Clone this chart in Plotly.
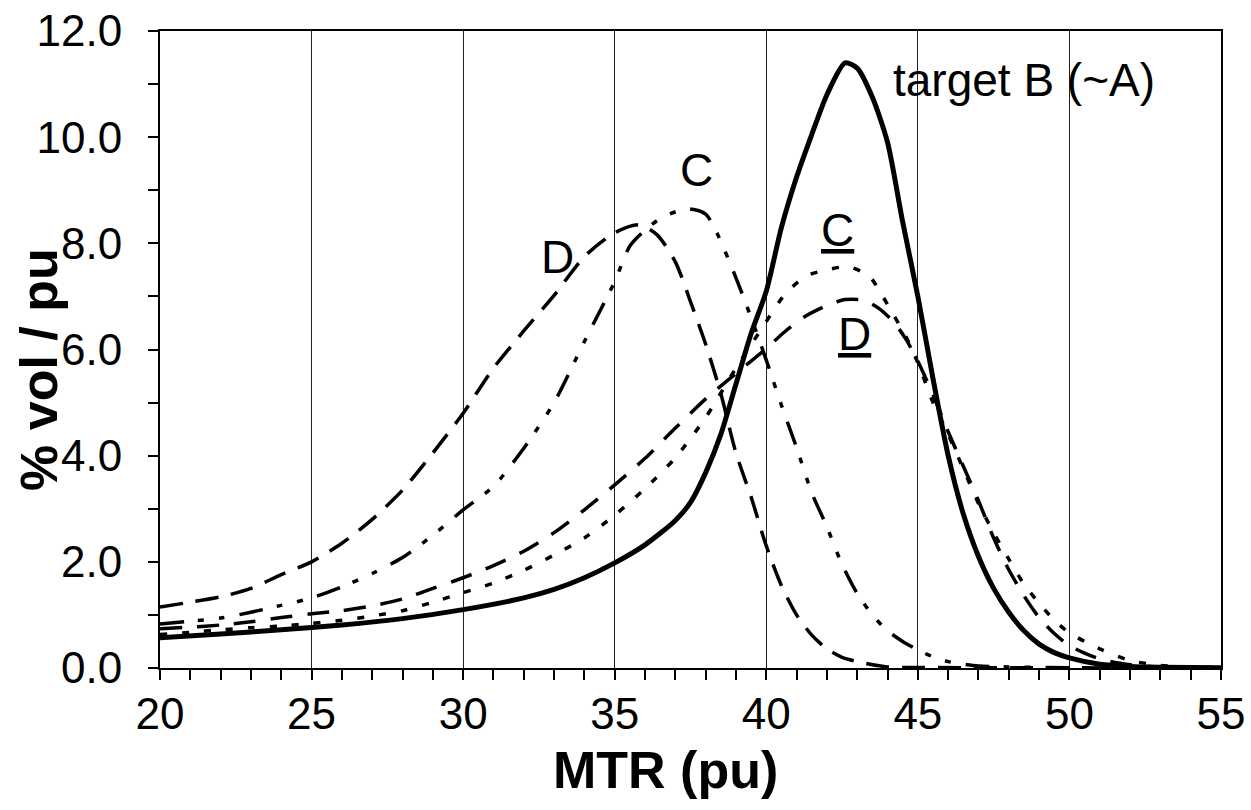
import plotly.graph_objects as go

# target B (~A) - solid
x_b = [20, 22, 24, 26, 28, 30, 32, 33, 34, 35, 36, 37, 37.5, 38, 38.5, 39, 39.5, 40, 40.5, 41, 41.5, 42, 42.6, 43, 43.5, 44, 44.5, 45, 45.5, 46, 46.5, 47, 47.5, 48, 48.5, 49, 49.5, 50, 51, 52, 53, 55]
y_b = [0.57, 0.64, 0.72, 0.81, 0.93, 1.1, 1.32, 1.48, 1.7, 1.98, 2.32, 2.78, 3.12, 3.68, 4.4, 5.35, 6.3, 7.1, 8.3, 9.25, 10.05, 10.8, 11.4, 11.3, 10.75, 9.9, 8.4, 7.0, 5.45, 4.0, 2.9, 2.1, 1.5, 1.05, 0.7, 0.45, 0.29, 0.19, 0.07, 0.03, 0.015, 0.005]

# C - dash-dot-dot
x_c = [20, 21, 22, 23, 24, 25, 26, 27, 28, 29, 30, 31, 32, 33, 34, 35, 35.5, 36, 36.6, 37.4, 38, 38.4, 39, 39.5, 40, 40.5, 41, 41.5, 42, 42.5, 43, 43.5, 44, 44.5, 45, 45.5, 46, 47, 48, 50, 55]
y_c = [0.83, 0.88, 0.94, 1.05, 1.18, 1.32, 1.53, 1.78, 2.08, 2.5, 2.98, 3.42, 4.14, 5.0, 6.15, 7.28, 7.95, 8.25, 8.5, 8.65, 8.55, 8.16, 7.35, 6.6, 5.8, 4.95, 4.15, 3.3, 2.66, 1.95, 1.4, 1.0, 0.7, 0.5, 0.34, 0.21, 0.12, 0.04, 0.02, 0.005, 0]

# D - long dash
x_d = [20, 21, 22, 23, 24, 25, 26, 27, 28, 29, 30, 31, 32, 33, 34, 35, 35.8, 36.4, 37, 37.5, 38, 38.5, 39, 39.5, 40, 40.5, 41, 41.5, 42, 42.5, 43, 44, 45, 55]
y_d = [1.15, 1.24, 1.34, 1.5, 1.76, 2.0, 2.35, 2.8, 3.35, 4.05, 4.8, 5.65, 6.35, 7.02, 7.75, 8.2, 8.35, 8.16, 7.65, 6.9, 6.1, 5.17, 4.05, 3.22, 2.3, 1.55, 1.0, 0.62, 0.36, 0.2, 0.12, 0.02, 0.01, 0]

# C underlined - dotted
x_cu = [20, 21, 22, 23, 24, 25, 26, 27, 28, 29, 30, 31, 32, 33, 34, 35, 36, 37, 38, 39, 39.8, 40.6, 41.3, 42, 42.7, 43.4, 43.8, 44.2, 44.6, 45, 45.5, 46, 46.5, 47, 47.5, 48, 48.5, 49, 49.5, 50, 51, 52, 53, 54, 55]
y_cu = [0.63, 0.67, 0.72, 0.76, 0.79, 0.84, 0.9, 0.98, 1.08, 1.24, 1.42, 1.6, 1.84, 2.13, 2.45, 2.88, 3.38, 3.96, 4.72, 5.65, 6.35, 7.03, 7.38, 7.5, 7.56, 7.38, 7.04, 6.65, 6.25, 5.75, 5.0, 4.4, 3.75, 3.1, 2.55, 2.05, 1.58, 1.22, 0.9, 0.66, 0.36, 0.14, 0.05, 0.02, 0.01]

# D underlined - dashed
x_du = [20, 21, 22, 23, 24, 25, 26, 27, 28, 29, 30, 31, 32, 33, 34, 35, 36, 37, 38, 39, 40, 40.6, 41.3, 42, 42.6, 43.2, 43.7, 44.2, 44.6, 45, 45.5, 46, 46.5, 47, 47.5, 48, 48.5, 49, 49.5, 50, 50.5, 51, 52, 53, 55]
y_du = [0.74, 0.77, 0.81, 0.87, 0.95, 1.02, 1.08, 1.17, 1.3, 1.5, 1.7, 1.93, 2.2, 2.55, 2.98, 3.45, 3.95, 4.52, 5.07, 5.55, 6.02, 6.33, 6.63, 6.83, 6.94, 6.93, 6.78, 6.52, 6.2, 5.78, 5.15, 4.45, 3.8, 3.15, 2.45, 1.85, 1.36, 0.95, 0.65, 0.42, 0.28, 0.17, 0.06, 0.02, 0]

x_ticks = [20, 25, 30, 35, 40, 45, 50, 55]
y_ticks = [0, 2, 4, 6, 8, 10, 12]

FONT = "Liberation Sans, Arial, sans-serif"

fig = go.Figure()
series = [
    (x_d, y_d, dict(color="black", width=3.5, dash="23px,13px")),
    (x_c, y_c, dict(color="black", width=3.5, dash="24px,14px,6px,15px,6px,15px")),
    (x_du, y_du, dict(color="black", width=3.5, dash="22px,15px")),
    (x_cu, y_cu, dict(color="black", width=3.5, dash="7px,15px")),
    (x_b, y_b, dict(color="black", width=5)),
]
for xs, ys, ln in series:
    fig.add_trace(go.Scatter(x=xs, y=ys, mode="lines",
                             line=dict(shape="spline", smoothing=0.7, **ln),
                             showlegend=False, hoverinfo="skip"))

ann_font = dict(family=FONT, size=46, color="black")
fig.add_annotation(x=48.5, y=11.08, text="target B (~A)", showarrow=False, font=ann_font)
fig.add_annotation(x=37.7, y=9.38, text="C", showarrow=False, font=ann_font)
fig.add_annotation(x=33.1, y=7.74, text="D", showarrow=False, font=ann_font)
fig.add_annotation(x=42.35, y=8.25, text="<u>C</u>", showarrow=False, font=ann_font)
fig.add_annotation(x=42.9, y=6.3, text="<u>D</u>", showarrow=False, font=ann_font)

fig.add_annotation(xref="paper", yref="paper", x=0.476, y=-0.16,
                   xanchor="center", yanchor="middle",
                   text="<b>MTR (pu)</b>", showarrow=False,
                   font=dict(family=FONT, size=52, color="black"))
fig.add_annotation(xref="paper", yref="paper", x=-0.114, y=0.468,
                   xanchor="center", yanchor="middle",
                   text="<b>% vol / pu</b>", showarrow=False, textangle=-90,
                   font=dict(family=FONT, size=52, color="black"))

fig.update_xaxes(range=[20, 55], tickvals=x_ticks, ticktext=[str(v) for v in x_ticks],
                 showgrid=True, gridcolor="#222", gridwidth=1,
                 showline=True, linecolor="black", linewidth=2, mirror=True,
                 ticks="outside", ticklen=10, tickwidth=1.5, tickcolor="black",
                 minor=dict(dtick=1, ticks="outside", ticklen=10, tickwidth=1.5, tickcolor="black", showgrid=False),
                 tickfont=dict(family=FONT, size=44, color="black"),
                 ticklabelstandoff=-4, zeroline=False)
fig.update_yaxes(range=[0, 12], tickvals=y_ticks, ticktext=[f"{v:.1f}" for v in y_ticks],
                 showgrid=False,
                 showline=True, linecolor="black", linewidth=2, mirror=True,
                 ticks="outside", ticklen=10, tickwidth=1.5, tickcolor="black",
                 minor=dict(dtick=1, ticks="outside", ticklen=10, tickwidth=1.5, tickcolor="black", showgrid=False),
                 tickfont=dict(family=FONT, size=44, color="black"),
                 ticklabelstandoff=17, zeroline=False)

fig.update_layout(width=1251, height=810,
                  margin=dict(l=160, r=30, t=31, b=142, autoexpand=False),
                  plot_bgcolor="white", paper_bgcolor="white")

fig.write_html("out.html")
